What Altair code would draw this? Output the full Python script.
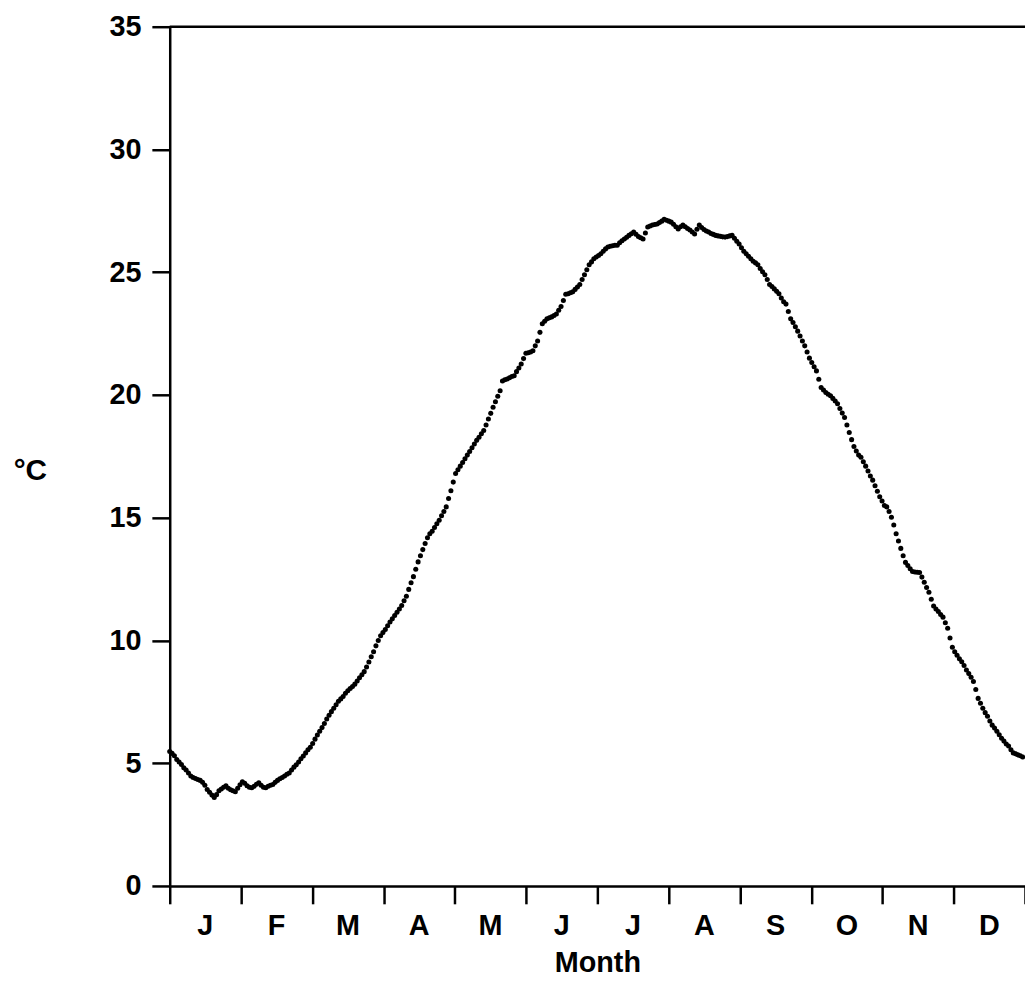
import altair as alt
import pandas as pd

MONTHS = ["J", "F", "M", "A", "M", "J", "J", "A", "S", "O", "N", "D"]
Y_TICKS = [0, 5, 10, 15, 20, 25, 30, 35]

# daily temperature (°C), day 0 .. 364
TEMP = [
    5.48, 5.40, 5.30, 5.15, 5.05, 4.95, 4.81, 4.72, 4.60, 4.48,
    4.42, 4.38, 4.34, 4.30, 4.22, 4.10, 3.93, 3.82, 3.70, 3.60,
    3.72, 3.88, 3.95, 4.02, 4.08, 3.98, 3.92, 3.88, 3.84, 3.98,
    4.12, 4.24, 4.18, 4.08, 4.02, 4.00, 4.06, 4.14, 4.20, 4.10,
    4.02, 4.00, 4.06, 4.10, 4.13, 4.22, 4.30, 4.37, 4.42, 4.48,
    4.55, 4.60, 4.72, 4.84, 4.94, 5.05, 5.18, 5.29, 5.42, 5.55,
    5.65, 5.80, 5.98, 6.15, 6.30, 6.45, 6.62, 6.80, 6.95, 7.10,
    7.24, 7.38, 7.52, 7.62, 7.72, 7.85, 7.95, 8.04, 8.12, 8.22,
    8.35, 8.48, 8.60, 8.73, 8.92, 9.12, 9.34, 9.54, 9.78, 10.00,
    10.19, 10.32, 10.45, 10.60, 10.75, 10.88, 11.02, 11.15, 11.28, 11.42,
    11.62, 11.80, 12.08, 12.35, 12.60, 12.90, 13.20, 13.45, 13.70, 13.95,
    14.18, 14.35, 14.45, 14.60, 14.75, 14.90, 15.08, 15.25, 15.44, 15.78,
    16.10, 16.45, 16.80, 16.95, 17.10, 17.25, 17.40, 17.55, 17.70, 17.85,
    18.00, 18.15, 18.28, 18.42, 18.55, 18.78, 19.02, 19.25, 19.50, 19.72,
    19.95, 20.17, 20.57, 20.62, 20.65, 20.70, 20.75, 20.78, 20.95, 21.10,
    21.26, 21.48, 21.70, 21.72, 21.75, 21.80, 22.00, 22.20, 22.55, 22.90,
    23.00, 23.10, 23.14, 23.18, 23.24, 23.30, 23.45, 23.60, 23.85, 24.10,
    24.12, 24.16, 24.20, 24.30, 24.40, 24.50, 24.70, 24.90, 25.10, 25.30,
    25.42, 25.55, 25.62, 25.68, 25.75, 25.85, 25.95, 26.03, 26.06, 26.08,
    26.10, 26.10, 26.20, 26.28, 26.35, 26.42, 26.50, 26.57, 26.64, 26.55,
    26.45, 26.40, 26.35, 26.60, 26.84, 26.88, 26.92, 26.94, 26.96, 27.02,
    27.08, 27.16, 27.12, 27.08, 27.04, 26.95, 26.85, 26.76, 26.85, 26.92,
    26.85, 26.78, 26.72, 26.64, 26.56, 26.75, 26.92, 26.82, 26.74, 26.68,
    26.64, 26.58, 26.54, 26.50, 26.48, 26.46, 26.44, 26.43, 26.45, 26.48,
    26.50, 26.38, 26.26, 26.15, 26.00, 25.85, 25.75, 25.65, 25.55, 25.45,
    25.38, 25.30, 25.15, 25.02, 24.90, 24.70, 24.50, 24.42, 24.32, 24.22,
    24.12, 23.95, 23.80, 23.70, 23.40, 23.10, 22.95, 22.78, 22.60, 22.40,
    22.20, 22.00, 21.75, 21.50, 21.32, 21.15, 20.98, 20.64, 20.30, 20.20,
    20.10, 20.03, 19.97, 19.86, 19.75, 19.64, 19.45, 19.26, 19.08, 18.78,
    18.47, 18.18, 17.90, 17.72, 17.55, 17.46, 17.28, 17.10, 16.90, 16.70,
    16.53, 16.30, 16.08, 15.85, 15.68, 15.50, 15.44, 15.25, 15.02, 14.70,
    14.35, 14.05, 13.75, 13.45, 13.18, 13.05, 12.92, 12.81, 12.79, 12.78,
    12.77, 12.58, 12.37, 12.16, 11.96, 11.68, 11.40, 11.28, 11.18, 11.06,
    10.95, 10.72, 10.50, 10.10, 9.72, 9.54, 9.40, 9.25, 9.13, 8.98,
    8.80, 8.65, 8.50, 8.33, 8.00, 7.64, 7.44, 7.24, 7.06, 6.91,
    6.72, 6.55, 6.43, 6.30, 6.16, 6.02, 5.90, 5.78, 5.70, 5.55,
    5.42, 5.38, 5.34, 5.30, 5.25,
]

df = pd.DataFrame({"day": list(range(len(TEMP))), "temp": TEMP})
top = pd.DataFrame({"x0": [0], "x1": [len(MONTHS)], "y": [Y_TICKS[-1]]})
month_df = pd.DataFrame({"m": MONTHS, "idx": list(range(len(MONTHS)))})

FONT = "Liberation Sans"
FS = 29
W, H = 862, 866

x_scale = alt.Scale(domain=[0, 12], nice=False, zero=False)
y_scale = alt.Scale(domain=[0, 35], nice=False)

x_axis = alt.Axis(
    values=list(range(13)),
    labels=False,
    title="Month",
    titleFont=FONT, titleFontSize=29, titleFontWeight="bold", titleColor="black",
    tickSize=18, tickWidth=2.5, tickColor="black",
    domainWidth=2.5, domainColor="black",
    titlePadding=44,
    grid=False,
)

y_axis = alt.Axis(
    values=Y_TICKS,
    title="°C",
    titleAngle=0, titleX=-141, titleY=447, titleAlign="center", titleBaseline="middle",
    labelFont=FONT, labelFontSize=FS, labelFontWeight="bold", labelColor="black",
    titleFont=FONT, titleFontSize=30, titleFontWeight="bold", titleColor="black",
    tickSize=18, tickWidth=2.5, tickColor="black",
    domainWidth=2.5, domainColor="black",
    labelPadding=11, grid=False,
)

points = alt.Chart(df).transform_calculate(
    month_pos="datum.day * 12 / 365"
).mark_circle(size=26, color="black", opacity=1).encode(
    x=alt.X("month_pos:Q", scale=x_scale, axis=x_axis),
    y=alt.Y("temp:Q", scale=y_scale, axis=y_axis),
)

top_line = alt.Chart(top).mark_rule(color="black", strokeWidth=2.5).encode(
    x=alt.X("x0:Q", scale=x_scale),
    x2="x1:Q",
    y=alt.Y("y:Q", scale=y_scale),
)

month_labels = alt.Chart(month_df).transform_calculate(
    mid="datum.idx + 0.5"
).mark_text(
    font=FONT, fontSize=FS, fontWeight="bold", color="black", baseline="middle", align="center"
).encode(
    x=alt.X("mid:Q", scale=x_scale),
    y=alt.value(H + 40),
    text="m:N",
)

chart = alt.layer(points, top_line, month_labels).properties(
    width=W,
    height=H,
    autosize=alt.AutoSizeParams(type="none"),
    padding={"left": 163, "top": 15, "right": 0, "bottom": 100},
).configure_view(stroke=None).configure(background="white")

chart.save("out.html", embed_options={"renderer": "svg", "actions": False})
